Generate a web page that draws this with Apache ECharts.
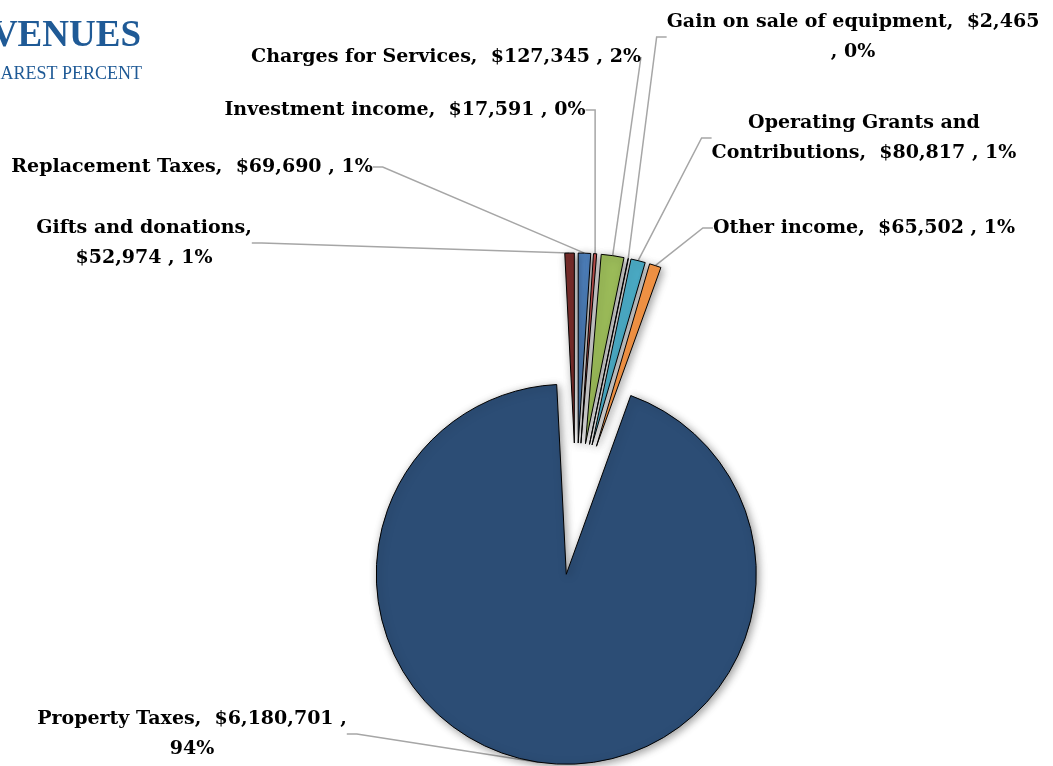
<!DOCTYPE html>
<html>
<head>
<meta charset="utf-8">
<script src="https://cdn.jsdelivr.net/npm/echarts@6/dist/echarts.min.js"></script>
<style>
  html, body { margin: 0; padding: 0; background: #ffffff; }
  #chart { width: 1053px; height: 766px; }
</style>
</head>
<body>
<div id="chart"></div>
<script>
// Revenue sources, listed in the order the slices run clockwise from 12 o'clock
const categories = [
  'Replacement Taxes',
  'Investment income',
  'Charges for Services',
  'Gain on sale of equipment',
  'Operating Grants and Contributions',
  'Other income',
  'Property Taxes',
  'Gifts and donations'
];
const amounts = [69690, 17591, 127345, 2465, 80817, 65502, 6180701, 52974];
const sliceColors = ['#4F81BD', '#C0504D', '#9BBB59', '#8064A2', '#4BACC6', '#F79646', '#2C4D75', '#772C2A'];

// Label box centres and wrap widths (same order as the categories)
const labelBoxes = [
  { x: 192, y: 167, w: 1000 },
  { x: 405, y: 110, w: 1000 },
  { x: 446, y: 57,  w: 1000 },
  { x: 853, y: 37,  w: 378 },
  { x: 864, y: 138, w: 330 },
  { x: 864, y: 228, w: 1000 },
  { x: 192, y: 734, w: 335 },
  { x: 144, y: 243, w: 260 }
];

// Pie geometry
const PIE_CX = 576, PIE_CY = 509, PIE_R = 190, EXPLODE = 66;

const serifFont = '"DejaVu Serif", "Liberation Serif", serif';
const titleFont = '"Liberation Serif", "DejaVu Serif", serif';
const LABEL_SIZE = 19;

const total = amounts.reduce((a, b) => a + b, 0);

// Greedy word wrap measured with the label font
const measureCtx = document.createElement('canvas').getContext('2d');
measureCtx.font = 'bold ' + LABEL_SIZE + 'px ' + serifFont;
function wrapText(text, maxWidth) {
  const words = text.split(' ');
  const lines = [];
  let line = '';
  words.forEach((w, i) => {
    const trial = i === 0 ? w : line + ' ' + w;
    if (line.trim() !== '' && measureCtx.measureText(trial.trim()).width > maxWidth) {
      lines.push(line.trim());
      line = w;
    } else {
      line = trial;
    }
  });
  lines.push(line.trim());
  return lines.join('\n');
}

function labelText(i) {
  const pct = Math.round(amounts[i] / total * 100);
  const raw = categories[i] + ',  $' + amounts[i].toLocaleString('en-US') + ' , ' + pct + '%';
  return wrapText(raw, labelBoxes[i].w);
}

// Each slice is pulled out along its own bisector: one pie layer per slice,
// with the other slices of that layer left transparent.
const starts = [];
amounts.reduce((acc, v) => { starts.push(acc); return acc + v; }, 0);

const hiddenItem = {
  itemStyle: { color: 'rgba(0,0,0,0)', borderWidth: 0, shadowBlur: 0, shadowColor: 'rgba(0,0,0,0)' },
  label: { show: false },
  labelLine: { show: false }
};

const series = categories.map((name, k) => {
  const mid = (starts[k] + amounts[k] / 2) / total * 2 * Math.PI;
  return {
    type: 'pie',
    center: [PIE_CX + EXPLODE * Math.sin(mid), PIE_CY - EXPLODE * Math.cos(mid)],
    radius: PIE_R,
    startAngle: 90,
    clockwise: true,
    avoidLabelOverlap: false,
    silent: true,
    emphasis: { disabled: true },
    label: {
      show: true,
      position: 'outside',
      color: '#000000',
      fontFamily: serifFont,
      fontWeight: 'bold',
      fontSize: LABEL_SIZE,
      lineHeight: 30,
      align: 'center',
      formatter: (p) => labelText(p.dataIndex)
    },
    labelLine: {
      show: true,
      length: 10,
      length2: 10,
      lineStyle: { color: '#A6A6A6', width: 1.5 }
    },
    labelLayout: (params) => {
      const box = labelBoxes[params.dataIndex];
      return { x: box.x, y: box.y, align: 'center', verticalAlign: 'middle' };
    },
    data: categories.map((n, i) => i === k
      ? {
          name: n,
          value: amounts[i],
          itemStyle: {
            color: sliceColors[i],
            borderColor: '#000000',
            borderWidth: 1,
            shadowBlur: 8,
            shadowColor: 'rgba(0,0,0,0.4)',
            shadowOffsetX: 2,
            shadowOffsetY: 2
          }
        }
      : Object.assign({ name: n, value: amounts[i] }, hiddenItem))
  };
});

const chart = echarts.init(document.getElementById('chart'), null, { renderer: 'canvas' });
chart.setOption({
  animation: false,
  backgroundColor: '#ffffff',
  graphic: [
    {
      type: 'text', x: 141, y: 36,
      style: {
        text: 'REVENUES', align: 'right', verticalAlign: 'middle',
        font: 'bold 37px ' + titleFont, fill: '#1F5A96'
      }
    },
    {
      type: 'text', x: 142, y: 74,
      style: {
        text: 'ROUNDED TO NEAREST PERCENT', align: 'right', verticalAlign: 'middle',
        font: '18px ' + titleFont, fill: '#1F5A96'
      }
    }
  ],
  series: series
});
</script>
</body>
</html>
